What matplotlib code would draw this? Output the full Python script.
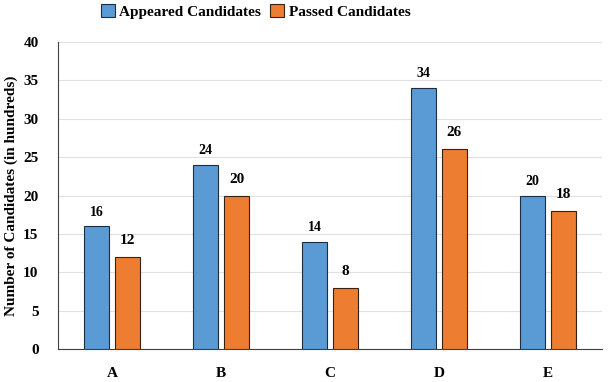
import matplotlib
matplotlib.use("Agg")
import matplotlib.pyplot as plt
import numpy as np

categories = ["A", "B", "C", "D", "E"]
appeared = [16, 24, 14, 34, 20]
passed = [12, 20, 8, 26, 18]
yticks = [0, 5, 10, 15, 20, 25, 30, 35, 40]

plt.rcParams['font.family'] = ['Liberation Serif', 'DejaVu Serif']
plt.rcParams['font.weight'] = 'bold'

fig = plt.figure(figsize=(6.12, 3.82), dpi=100)
ax = fig.add_axes([58/612, 1-349/382, 544/612, (349-42)/382])

x = np.arange(len(categories))
w = 0.23
off = 0.142
blue = "#5B9BD5"
orange = "#ED7D31"
b1 = ax.bar(x - off, appeared, w, color=blue, edgecolor="#1f2d3d", linewidth=0.8, label="Appeared Candidates", zorder=3)
b2 = ax.bar(x + off, passed, w, color=orange, edgecolor="#3a2010", linewidth=0.8, label="Passed Candidates", zorder=3)

for xi, v in zip(x, appeared):
    ax.text(xi - off, v + 1.0, str(v), ha="center", va="bottom", fontsize=10, fontweight="bold")
for xi, v in zip(x, passed):
    ax.text(xi + off, v + 1.3, str(v), ha="center", va="bottom", fontsize=11, fontweight="bold")

ax.set_xlim(-0.5, 4.5)
ax.set_ylim(0, 40)
ax.set_yticks(yticks)
ax.set_xticks(x)
ax.set_xticklabels(categories, fontsize=11, fontweight="bold")
ax.tick_params(axis="y", labelsize=11, length=0, pad=14)
ax.tick_params(axis="x", length=0, pad=13)
ax.yaxis.grid(True, color="#e0e0e0", linewidth=0.8, zorder=0)
ax.set_axisbelow(True)
for s in ["top", "right"]:
    ax.spines[s].set_visible(False)
ax.spines["left"].set_color("#404040")
ax.spines["bottom"].set_color("#404040")
ax.set_ylabel("Number of Candidates (in hundreds)", fontsize=11, fontweight="bold", labelpad=4)

fig.legend(handles=[b1, b2], loc="upper center", bbox_to_anchor=(0.418, 1.025), ncol=2, frameon=False,
           handlelength=0.9, handleheight=0.9, handletextpad=0.3, columnspacing=0.6,
           prop={"weight": "bold", "size": 11})

fig.savefig("out.png", dpi=100)
